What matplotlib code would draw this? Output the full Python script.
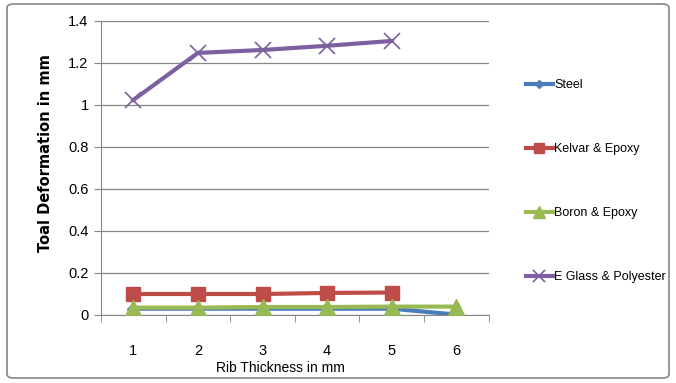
import matplotlib.pyplot as plt
from matplotlib.patches import FancyBboxPatch

thickness = [1, 2, 3, 4, 5, 6]
steel = [0.03, 0.03, 0.03, 0.03, 0.03, 0.002]
kelvar = [0.1, 0.1, 0.1, 0.105, 0.107]
boron = [0.035, 0.035, 0.038, 0.038, 0.04, 0.04]
eglass = [1.024, 1.248, 1.262, 1.282, 1.305]

txt = 'Liberation Sans'

fig = plt.figure(figsize=(6.76, 3.83), dpi=100)
ax = fig.add_axes([101/676, 1 - 315/383, 387.6/676, 294/383])

ax.plot(thickness[:len(steel)], steel, color='#4A7EBB', lw=3, marker='D', ms=6, label='Steel', zorder=3)
ax.plot(thickness[:len(kelvar)], kelvar, color='#BE4B48', lw=3, marker='s', ms=10, label='Kelvar & Epoxy', zorder=3)
ax.plot(thickness[:len(boron)], boron, color='#98B954', lw=3, marker='^', ms=11, label='Boron & Epoxy', zorder=4)
ax.plot(thickness[:len(eglass)], eglass, color='#7D60A0', lw=3, marker='x', ms=11, mew=1.2, label='E Glass & Polyester', zorder=3)

ax.set_xlim(0.5, 6.5)
ax.set_ylim(0, 1.4)
ax.set_yticks([0, 0.2, 0.4, 0.6, 0.8, 1.0, 1.2, 1.4])
ax.set_yticklabels(['0', '0.2', '0.4', '0.6', '0.8', '1', '1.2', '1.4'])
ax.set_xticks(thickness)
ax.set_xticks([0.5 + i for i in range(7)], minor=True)
ax.tick_params(axis='x', which='major', length=0, pad=21)
ax.tick_params(axis='x', which='minor', length=5, color='#868686', direction='out')
ax.tick_params(axis='y', length=5, color='#868686', direction='out', pad=4)
for lab in ax.get_xticklabels() + ax.get_yticklabels():
    lab.set_fontfamily(txt)
    lab.set_fontsize(10.5)
ax.grid(axis='y', color='#868686', lw=0.9)
ax.set_axisbelow(True)
for s in ['top', 'right']:
    ax.spines[s].set_visible(False)
ax.spines['left'].set_color('#868686')
ax.spines['bottom'].set_color('#868686')

ax.set_xlabel('Rib Thickness in mm', fontfamily=txt, fontsize=10)
ax.xaxis.set_label_coords((280 - 101) / 387.6, -(368 - 315) / 294, transform=ax.transAxes)
ax.xaxis.label.set_verticalalignment('center')
ax.set_ylabel('Toal Deformation in mm', fontfamily='DejaVu Sans', fontsize=10.5, fontweight='bold')
ax.yaxis.set_label_coords(-(101 - 45) / 387.6, (315 - 153) / 294, transform=ax.transAxes)
ax.yaxis.label.set_verticalalignment('center')

leg = fig.legend(loc='upper left', bbox_to_anchor=(515/676, 1 - 68/383), frameon=False,
                 prop={'family': txt, 'size': 9}, labelspacing=4.15,
                 handlelength=2.1, handletextpad=0.15, markerscale=0.75)

fig.patches.append(FancyBboxPatch((7/676, 5/383), 662/676, 374/383,
                                  boxstyle='round,pad=0,rounding_size=0.01',
                                  transform=fig.transFigure, fill=False,
                                  ec='#868686', lw=1.2))

fig.savefig('out.png', dpi=100)
